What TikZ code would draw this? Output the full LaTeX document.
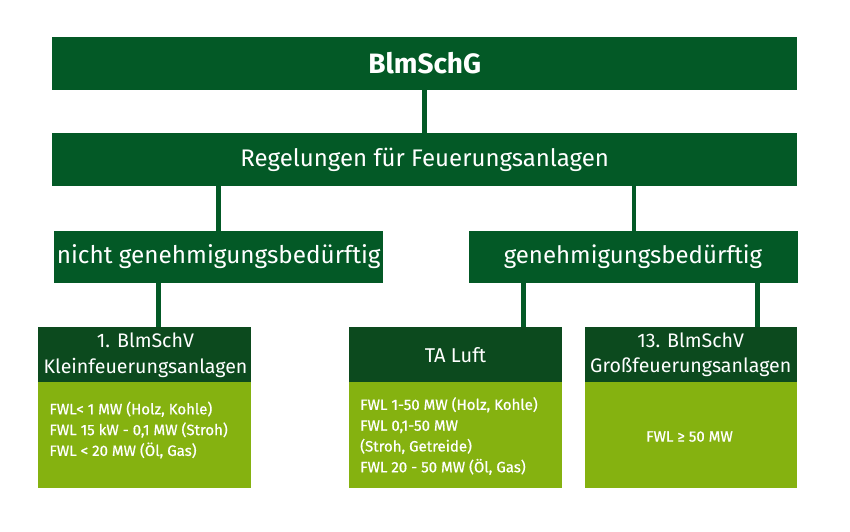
\documentclass[tikz,border=0pt]{standalone}
\usepackage{fontspec}
\setmainfont{Fira Sans}
\newfontfamily\bodyfont[BoldFont={Fira Sans},BoldFeatures={FakeBold=0.7}]{Fira Sans}
\definecolor{topgreen}{RGB}{3,89,38}
\definecolor{headgreen}{RGB}{12,74,30}
\definecolor{bodygreen}{RGB}{133,178,16}
\tikzset{
  box/.style={fill=topgreen, text=white, inner sep=0pt, outer sep=0pt, anchor=north west, align=center},
  headbox/.style={fill=headgreen, text=white, inner sep=0pt, outer sep=0pt, anchor=north west, align=center},
  bodybox/.style={fill=bodygreen, inner sep=0pt, outer sep=0pt, anchor=north west},
  conn/.style={draw=topgreen, line width=4.5pt},
  lbl/.style={text=white, inner sep=0pt, align=center},
  bodytxt/.style={text=white, inner sep=0pt, align=left, anchor=west, font=\bodyfont\bfseries\fontsize{15}{20.8}\selectfont},
}
\begin{document}
\begin{tikzpicture}[x=1pt,y=-1pt]
\useasboundingbox[fill=white] (0,0) rectangle (850,531);
% top level
\node[box, minimum width=745pt, minimum height=53pt] (top) at (52,37) {};
\node[lbl, font=\fontsize{28}{32}\selectfont\bfseries] (toplbl) at (424.7,63.5) {BlmSchG};
\node[box, minimum width=745pt, minimum height=53pt] (reg) at (52,133) {};
\node[lbl, font=\fontsize{24}{28}\selectfont] (reglbl) at (424.7,159.5) {Regelungen für Feuerungsanlagen};
\node[box, minimum width=329pt, minimum height=52pt] (nicht) at (54,230.5) {};
\node[lbl, font=\fontsize{24.3}{28}\selectfont] (nichtlbl) at (218.7,256.5) {nicht genehmigungsbedürftig};
\node[box, minimum width=329pt, minimum height=52pt] (gen) at (468.5,230.5) {};
\node[lbl, font=\fontsize{24}{28}\selectfont] (genlbl) at (633,256.5) {genehmigungsbedürftig};
% bottom boxes
\node[headbox, minimum width=213pt, minimum height=55.5pt] (klein) at (38.3,326.7) {};
\node[bodybox, minimum width=213pt, minimum height=106pt] (kleinb) at (38.3,382) {};
\node[headbox, minimum width=213.5pt, minimum height=55.5pt] (ta) at (348.8,326.7) {};
\node[bodybox, minimum width=213.5pt, minimum height=106pt] (tab) at (348.8,382) {};
\node[headbox, minimum width=212.5pt, minimum height=55.5pt] (gross) at (584.5,326.7) {};
\node[bodybox, minimum width=212.5pt, minimum height=106pt] (grossb) at (584.5,382) {};
% header labels
\node[lbl, font=\fontsize{19.6}{25.5}\selectfont] (kleinlbl) at (145.5,355) {1. BlmSchV\\Kleinfeuerungsanlagen};
\node[lbl, font=\fontsize{20}{25.5}\selectfont] (talbl) at (455.5,355) {TA Luft};
\node[lbl, font=\fontsize{19.6}{25.5}\selectfont] (grosslbl) at (690.7,354.5) {13. BlmSchV\\Großfeuerungsanlagen};
% body labels
\node[bodytxt] (kleintxt) at (49.3,430) {FWL< 1 MW (Holz, Kohle)\\FWL 15 kW - 0,1 MW (Stroh)\\FWL < 20 MW (Öl, Gas)};
\node[bodytxt] (tatxt) at (360,436) {FWL 1-50 MW (Holz, Kohle)\\FWL 0,1-50 MW\\(Stroh, Getreide)\\FWL 20 - 50 MW (Öl, Gas)};
\node[lbl, font=\bodyfont\bfseries\fontsize{15}{20}\selectfont] (grosstxt) at (689.5,436.5) {FWL ≥ 50 MW};
% connectors
\coordinate (cA) at (158.5,0);
\coordinate (cB) at (523.6,0);
\coordinate (cC) at (757.4,0);
\coordinate (cD) at (633.8,0);
\draw[conn] (top.south) -- (reg.north);
\draw[conn] (reg.south -| nicht.north) -- (nicht.north);
\draw[conn] (reg.south -| cD) -- (gen.north -| cD);
\draw[conn] (nicht.south -| cA) -- (klein.north -| cA);
\draw[conn] (gen.south -| cB) -- (ta.north -| cB);
\draw[conn] (gen.south -| cC) -- (gross.north -| cC);
\end{tikzpicture}
\end{document}
